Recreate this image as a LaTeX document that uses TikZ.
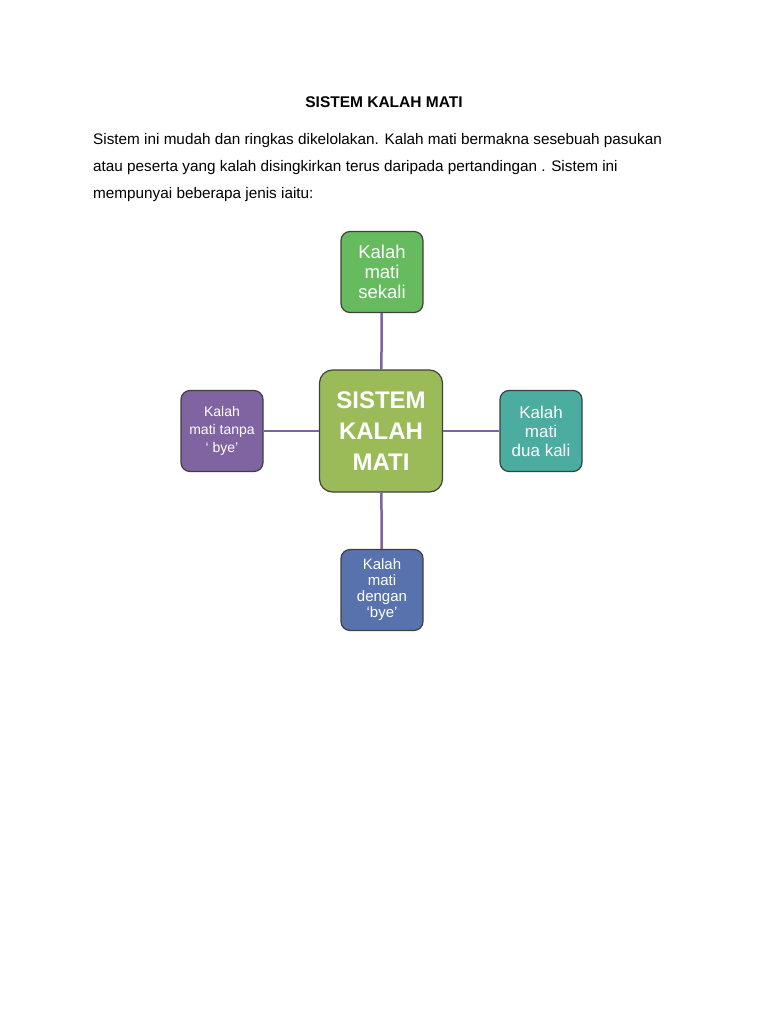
\documentclass[tikz,border=0pt]{standalone}
\usepackage{fontspec}
\setmainfont{Liberation Sans}
\begin{document}
\begin{tikzpicture}[x=1pt,y=-1pt,
  box/.style={draw=black!75,line width=1.2pt,rounded corners=9pt,minimum width=82pt,minimum height=81pt,text=white,align=center,inner sep=1pt},
  link/.style={line width=2.5pt},
  para/.style={anchor=west,inner sep=0pt,font=\fontsize{15.3}{17}\selectfont}]
\useasboundingbox (0,0) rectangle (768,1024);
\fill[white] (0,0) rectangle (768,1024);
\definecolor{cgreen}{HTML}{66BB5E}
\definecolor{clime}{HTML}{9BBB59}
\definecolor{cpurple}{HTML}{8064A2}
\definecolor{cteal}{HTML}{4BACA0}
\definecolor{cblue}{HTML}{5872AE}
\definecolor{clink}{HTML}{8064A2}
\node[font=\bfseries\fontsize{15.5}{17}\selectfont,inner sep=0pt] (title) at (384,102) {SISTEM KALAH MATI};
\node[para] (p1) at (93,141) {Sistem ini mudah dan ringkas dikelolakan. Kalah mati bermakna sesebuah pasukan};
\node[para] (p2) at (93,168) {atau peserta yang kalah disingkirkan terus daripada pertandingan . Sistem ini};
\node[para] (p3) at (93,195) {mempunyai beberapa jenis iaitu:};
\node[box,fill=clime,minimum width=123pt,minimum height=122pt,rounded corners=13pt,font=\bfseries\fontsize{24}{31}\selectfont] (c) at (381,431) {SISTEM\\KALAH\\MATI};
\node[box,fill=cgreen,font=\fontsize{18.5}{20}\selectfont] (t) at (382,272) {Kalah\\mati\\sekali};
\node[box,fill=cpurple,font=\fontsize{14}{18}\selectfont] (l) at (222,431) {Kalah\\mati tanpa\\‘ bye’};
\node[box,fill=cteal,font=\fontsize{17}{19}\selectfont] (r) at (541,431) {Kalah\\mati\\dua kali};
\node[box,fill=cblue,font=\fontsize{15}{16}\selectfont] (b) at (382,590) {Kalah\\mati\\dengan\\‘bye’};
\draw[link,draw=clink] (c) -- (t);
\draw[link,draw=clink] (c) -- (l);
\draw[link,draw=clink] (c) -- (r);
\draw[link,draw=clink] (c) -- (b);
\end{tikzpicture}
\end{document}
